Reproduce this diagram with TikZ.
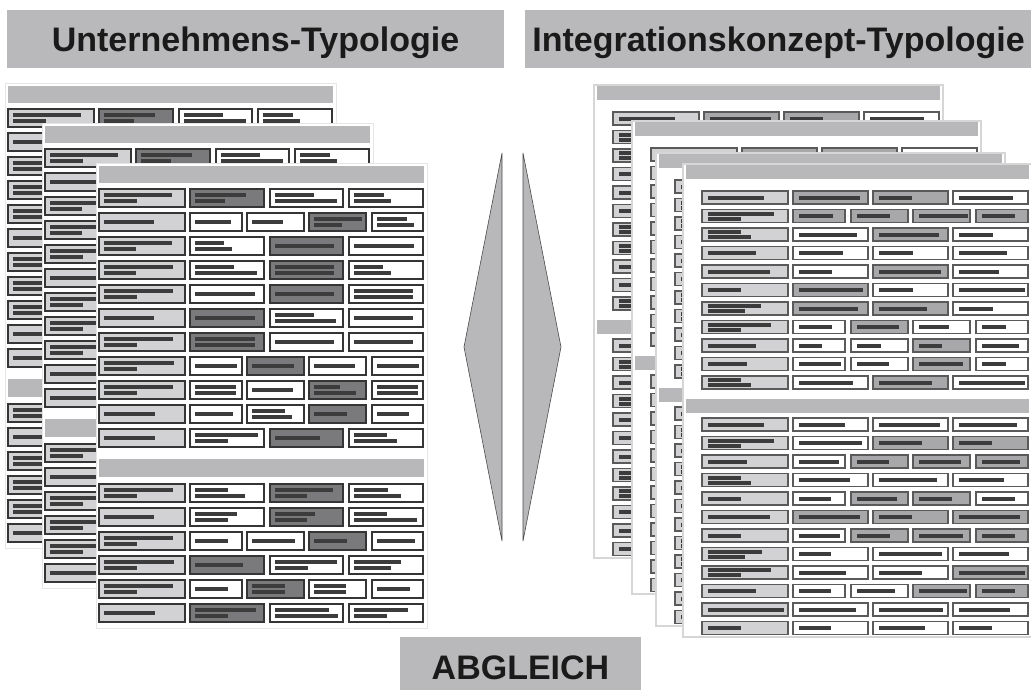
\documentclass[tikz,border=0pt]{standalone}
\usepackage{fontspec}
\setmainfont{Liberation Sans}
\definecolor{titlegray}{HTML}{B9B9BB}
\definecolor{hdrgray}{HTML}{B8B8BA}
\definecolor{cellhead}{HTML}{D2D2D4}
\definecolor{celldark}{HTML}{7A7A7C}
\definecolor{cellmed}{HTML}{A8A8AA}
\definecolor{barcol}{HTML}{3C3C3C}
\definecolor{lborder}{HTML}{353535}
\definecolor{rborder}{HTML}{5A5A5A}
\definecolor{ledge}{HTML}{E6E6E6}
\definecolor{redge}{HTML}{D6D6D6}
\definecolor{txtcol}{HTML}{1A1A1A}
\tikzset{
  lhead/.style={fill=cellhead, draw=lborder, line width=1.2pt},
  ldark/.style={fill=celldark, draw=lborder, line width=1.2pt},
  lwhite/.style={fill=white, draw=lborder, line width=1.2pt},
  rhead/.style={fill=cellhead, draw=rborder, line width=1.4pt},
  rmed/.style={fill=cellmed, draw=rborder, line width=1.4pt},
  rwhite/.style={fill=white, draw=rborder, line width=1.4pt},
  titlebox/.style={fill=titlegray, draw=none, inner sep=0pt, text=txtcol,
    font=\fontsize{34}{34}\selectfont\bfseries, text depth=0pt},
  wedge/.style={fill=hdrgray, draw=gray!60!black, line width=0.6pt},
}
% row shift
\newcommand\Rw[2]{\begin{scope}[shift={(0,#1)}]#2\end{scope}}
% left cell: xa xb style bar1 bar2
\newcommand\cL[5]{\path[#3] (#1,0) rectangle (#2,18);
  \ifnum#5=0 \fill[barcol] ({#1+4.5},7) rectangle ++(#4,4);
  \else \fill[barcol] ({#1+4.5},4) rectangle ++(#4,4);
        \fill[barcol] ({#1+4.5},10) rectangle ++(#5,3.5);\fi}
\newcommand\LH[2]{\cL{0}{86}{lhead}{#1}{#2}}
\newcommand\LT[4]{\ifcase#1\or\cL{91}{165}{#2}{#3}{#4}\or\cL{171}{244}{#2}{#3}{#4}\or\cL{250}{324}{#2}{#3}{#4}\fi}
\newcommand\LQ[4]{\ifcase#1\or\cL{91}{143}{#2}{#3}{#4}\or\cL{148}{205}{#2}{#3}{#4}\or\cL{210}{267}{#2}{#3}{#4}\or\cL{273}{324}{#2}{#3}{#4}\fi}
% right cell
\newcommand\cR[5]{\path[#3] (#1,0) rectangle (#2,13);
  \ifnum#5=0 \fill[barcol] ({#1+6},4.5) rectangle ++(#4,4);
  \else \fill[barcol] ({#1+6},2) rectangle ++(#4,4);
        \fill[barcol] ({#1+6},7) rectangle ++(#5,4);\fi}
\newcommand\RH[2]{\cR{16}{102}{rhead}{#1}{#2}}
\newcommand\RT[4]{\ifcase#1\or\cR{107}{182}{#2}{#3}{#4}\or\cR{187}{262}{#2}{#3}{#4}\or\cR{267}{342}{#2}{#3}{#4}\fi}
\newcommand\RQ[4]{\ifcase#1\or\cR{107}{159}{#2}{#3}{#4}\or\cR{165}{222}{#2}{#3}{#4}\or\cR{227}{284}{#2}{#3}{#4}\or\cR{290}{342}{#2}{#3}{#4}\fi}

\newcommand\leftcontent{%
  \fill[hdrgray] (0,0) rectangle (325,17);
  \Rw{23}{\LH{68}{33}\LT1{ldark}{51}{30}\LT2{lwhite}{39}{62}\LT3{lwhite}{30}{37}}
  \Rw{47}{\LH{50}{0}\LQ1{lwhite}{36}{0}\LQ2{lwhite}{31}{0}\LQ3{ldark}{48}{28}\LQ4{lwhite}{30}{37}}
  \Rw{71}{\LH{68}{32}\LT1{lwhite}{29}{37}\LT2{ldark}{59}{0}\LT3{lwhite}{60}{0}}
  \Rw{95}{\LH{69}{32}\LT1{lwhite}{39}{62}\LT2{ldark}{59}{59}\LT3{lwhite}{29}{37}}
  \Rw{119}{\LH{69}{33}\LT1{lwhite}{60}{0}\LT2{ldark}{59}{0}\LT3{lwhite}{59}{59}}
  \Rw{143}{\LH{50}{0}\LT1{ldark}{60}{0}\LT2{lwhite}{39}{61}\LT3{lwhite}{59}{0}}
  \Rw{167}{\LH{69}{33}\LT1{ldark}{60}{60}\LT2{lwhite}{59}{0}\LT3{lwhite}{59}{0}}
  \Rw{191}{\LH{70}{33}\LQ1{lwhite}{42}{0}\LQ2{ldark}{42}{0}\LQ3{lwhite}{41}{0}\LQ4{lwhite}{42}{0}}
  \Rw{215}{\LH{69}{33}\LQ1{lwhite}{41}{41}\LQ2{lwhite}{41}{0}\LQ3{ldark}{26}{42}\LQ4{lwhite}{41}{41}}
  \Rw{239}{\LH{51}{0}\LQ1{lwhite}{38}{0}\LQ2{lwhite}{33}{40}\LQ3{ldark}{33}{0}\LQ4{lwhite}{32}{0}}
  \Rw{263}{\LH{51}{0}\LT1{lwhite}{63}{33}\LT2{ldark}{45}{0}\LT3{lwhite}{33}{43}}
  \fill[hdrgray] (0,293) rectangle (325,311);
  \Rw{318}{\LH{69}{33}\LT1{lwhite}{33}{50}\LT2{ldark}{58}{32}\LT3{lwhite}{34}{47}}
  \Rw{342}{\LH{50}{0}\LT1{lwhite}{42}{33}\LT2{ldark}{40}{32}\LT3{lwhite}{33}{63}}
  \Rw{366}{\LH{69}{33}\LQ1{lwhite}{33}{0}\LQ2{lwhite}{43}{0}\LQ3{ldark}{33}{0}\LQ4{lwhite}{38}{0}}
  \Rw{390}{\LH{70}{33}\LT1{ldark}{48}{0}\LT2{lwhite}{62}{33}\LT3{lwhite}{47}{37}}
  \Rw{414}{\LH{69}{33}\LQ1{lwhite}{33}{0}\LQ2{ldark}{33}{33}\LQ3{lwhite}{32}{32}\LQ4{lwhite}{33}{0}}
  \Rw{438}{\LH{51}{0}\LT1{ldark}{61}{33}\LT2{lwhite}{54}{63}\LT3{lwhite}{54}{33}}
}
\newcommand\rightcontent{%
  \fill[hdrgray] (0,0) rectangle (343,13.5);
  \Rw{26}{\RH{56}{0}\RT1{rmed}{61}{0}\RT2{rmed}{33}{0}\RT3{rwhite}{54}{0}}
  \Rw{44.5}{\RH{66}{33}\RQ1{rmed}{34}{0}\RQ2{rmed}{33}{0}\RQ3{rmed}{49}{0}\RQ4{rmed}{33}{0}}
  \Rw{63}{\RH{33}{43}\RT1{rwhite}{58}{0}\RT2{rmed}{60}{0}\RT3{rwhite}{34}{0}}
  \Rw{81.5}{\RH{48}{0}\RT1{rwhite}{44}{0}\RT2{rwhite}{34}{0}\RT3{rwhite}{48}{0}}
  \Rw{100}{\RH{62}{0}\RT1{rwhite}{33}{0}\RT2{rmed}{62}{0}\RT3{rwhite}{40}{0}}
  \Rw{118.5}{\RH{33}{0}\RT1{rmed}{64}{0}\RT2{rwhite}{34}{0}\RT3{rwhite}{66}{0}}
  \Rw{137}{\RH{53}{37}\RT1{rmed}{59}{0}\RT2{rmed}{48}{0}\RT3{rwhite}{34}{0}}
  \Rw{155.5}{\RH{63}{33}\RQ1{rwhite}{33}{0}\RQ2{rmed}{42}{0}\RQ3{rwhite}{30}{0}\RQ4{rwhite}{24}{0}}
  \Rw{174}{\RH{48}{0}\RQ1{rwhite}{23}{0}\RQ2{rwhite}{24}{0}\RQ3{rmed}{23}{0}\RQ4{rwhite}{37}{0}}
  \Rw{192.5}{\RH{39}{0}\RQ1{rwhite}{42}{0}\RQ2{rwhite}{32}{0}\RQ3{rmed}{44}{0}\RQ4{rwhite}{24}{0}}
  \Rw{211}{\RH{33}{43}\RT1{rwhite}{54}{0}\RT2{rmed}{53}{0}\RT3{rwhite}{66}{0}}
  \fill[hdrgray] (0,234) rectangle (343,248);
  \Rw{253}{\RH{56}{0}\RT1{rwhite}{46}{0}\RT2{rwhite}{61}{0}\RT3{rwhite}{58}{0}}
  \Rw{271.5}{\RH{66}{33}\RT1{rwhite}{63}{0}\RT2{rmed}{43}{0}\RT3{rmed}{33}{0}}
  \Rw{290}{\RH{39}{0}\RQ1{rwhite}{40}{0}\RQ2{rmed}{32}{0}\RQ3{rmed}{42}{0}\RQ4{rmed}{38}{0}}
  \Rw{308.5}{\RH{33}{43}\RT1{rwhite}{51}{0}\RT2{rwhite}{58}{0}\RT3{rwhite}{45}{0}}
  \Rw{327}{\RH{33}{0}\RQ1{rwhite}{32}{0}\RQ2{rmed}{40}{0}\RQ3{rmed}{33}{0}\RQ4{rwhite}{33}{0}}
  \Rw{345.5}{\RH{62}{0}\RT1{rmed}{61}{0}\RT2{rmed}{33}{0}\RT3{rmed}{61}{0}}
  \Rw{364}{\RH{33}{0}\RQ1{rwhite}{41}{0}\RQ2{rmed}{33}{0}\RQ3{rmed}{44}{0}\RQ4{rmed}{33}{0}}
  \Rw{382.5}{\RH{54}{37}\RT1{rwhite}{32}{0}\RT2{rwhite}{63}{0}\RT3{rwhite}{50}{0}}
  \Rw{401}{\RH{63}{33}\RT1{rwhite}{47}{0}\RT2{rwhite}{43}{0}\RT3{rmed}{66}{0}}
  \Rw{419.5}{\RH{48}{0}\RQ1{rwhite}{32}{0}\RQ2{rwhite}{38}{0}\RQ3{rmed}{48}{0}\RQ4{rmed}{33}{0}}
  \Rw{438}{\RH{76}{0}\RT1{rwhite}{57}{0}\RT2{rwhite}{64}{0}\RT3{rwhite}{51}{0}}
  \Rw{456.5}{\RH{33}{0}\RT1{rwhite}{32}{0}\RT2{rwhite}{46}{0}\RT3{rwhite}{33}{0}}
}
\newcommand\leftsheet[2]{\begin{scope}[shift={(#1,#2)}]
  \filldraw[fill=white, draw=ledge, line width=1pt] (-3,-3) rectangle (328,462);
  \leftcontent
\end{scope}}
\newcommand\rightsheet[2]{\begin{scope}[shift={(#1,#2)}]
  \filldraw[fill=white, draw=redge, line width=1.8pt] (-3,-1) rectangle (346,472);
  \rightcontent
\end{scope}}

\begin{document}
\begin{tikzpicture}[x=1pt,y=-1pt]
\useasboundingbox (0,0) rectangle (1031,689);
\fill[white] (0,0) rectangle (1031,689);
% titles
\node[titlebox, minimum width=497pt, minimum height=58pt] (tleft) at (255.5,39) {Unternehmens-Typologie};
\node[titlebox, minimum width=507pt, minimum height=58pt] (tright) at (778.5,39) {Integrationskonzept-Typologie};
% left stack
\leftsheet{8}{86}
\leftsheet{45}{126}
\leftsheet{99}{166}
% right stack
\rightsheet{597}{86}
\rightsheet{635}{122}
\rightsheet{659}{154}
\rightsheet{686}{165}
% comparison wedges
\filldraw[wedge] (502,153) -- (464,347) -- (502,541) -- cycle;
\filldraw[wedge] (523,153) -- (561,347) -- (523,541) -- cycle;
% bottom label
\node[titlebox, minimum width=241pt, minimum height=62pt] (abgl) at (520.5,668) {ABGLEICH};
\end{tikzpicture}
\end{document}
